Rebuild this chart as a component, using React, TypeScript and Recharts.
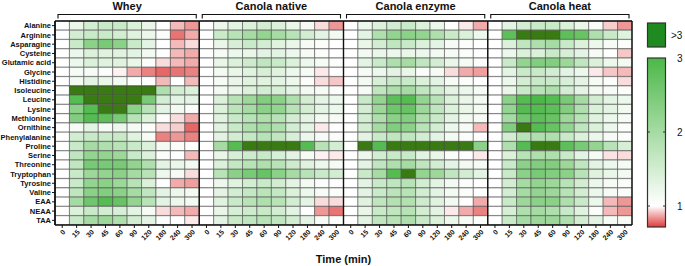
import { BarChart, Bar, Cell, XAxis, YAxis, ReferenceLine } from 'recharts';

const TIMES = ['0', '15', '30', '45', '60', '90', '120', '180', '240', '300'];
const PANELS = ['Whey', 'Canola native', 'Canola enzyme', 'Canola heat'];
const AMINO = [
  'Alanine', 'Arginine', 'Asparagine', 'Cysteine', 'Glutamic acid', 'Glycine', 'Histidine',
  'Isoleucine', 'Leucine', 'Lysine', 'Methionine', 'Ornithine', 'Phenylalanine', 'Proline',
  'Serine', 'Threonine', 'Tryptophan', 'Tyrosine', 'Valine', 'EAA', 'NEAA', 'TAA',
];

// fold change vs. baseline, one row per amino acid, one column per time point
const WHEY = [
  [1, 1.25, 1.5, 1.6, 1.6, 1.4, 1.25, 1.0, 0.9, 0.85],
  [1, 1.5, 1.6, 1.6, 1.5, 1.35, 1.2, 1.05, 0.8, 0.88],
  [1, 1.6, 2.3, 2.5, 2.3, 1.6, 1.3, 1.02, 0.9, 0.95],
  [1, 1.2, 1.4, 1.35, 1.35, 1.3, 1.15, 1.0, 0.9, 0.88],
  [1, 1.2, 1.4, 1.35, 1.35, 1.25, 1.05, 0.95, 0.9, 0.88],
  [1, 1.1, 1.1, 1.05, 0.98, 0.88, 0.82, 0.78, 0.8, 0.82],
  [1, 1.15, 1.3, 1.25, 1.15, 1.05, 1.02, 0.9, 1.0, 0.9],
  [1, 3.5, 3.5, 3.5, 3.5, 3.5, 3.5, 1.9, 1.5, 1.4],
  [1, 2.9, 3.5, 3.5, 3.5, 3.5, 2.5, 1.5, 1.3, 1.3],
  [1, 2.3, 2.9, 3.5, 3.5, 2.3, 1.8, 1.3, 1.15, 1.05],
  [1, 2.4, 2.9, 2.8, 2.5, 1.8, 1.4, 1.05, 0.95, 0.88],
  [1, 1.1, 1.3, 1.1, 1.2, 1.1, 1.05, 0.95, 0.93, 0.78],
  [1, 1.5, 1.6, 1.6, 1.6, 1.35, 1.1, 0.82, 0.85, 0.82],
  [1, 1.6, 2.0, 1.9, 1.8, 1.6, 1.4, 1.15, 1.05, 1.0],
  [1, 1.7, 2.2, 2.2, 2.1, 1.6, 1.4, 1.05, 1.0, 0.9],
  [1, 1.7, 2.5, 2.5, 2.5, 2.2, 1.9, 1.3, 1.25, 1.15],
  [1, 1.6, 2.1, 2.2, 2.3, 2.0, 1.8, 1.2, 1.1, 0.95],
  [1, 1.6, 2.2, 2.3, 2.1, 1.8, 1.4, 1.0, 0.88, 0.86],
  [1, 1.7, 2.3, 2.4, 2.3, 2.0, 1.7, 1.3, 1.2, 1.15],
  [1, 2.0, 2.6, 2.9, 2.7, 2.2, 1.8, 1.3, 1.2, 1.15],
  [1, 1.4, 1.6, 1.5, 1.45, 1.3, 1.1, 0.95, 0.9, 0.88],
  [1, 1.6, 2.0, 2.1, 1.9, 1.5, 1.3, 1.05, 1.0, 0.97],
];

const CANOLA_NATIVE = [
  [1, 1.2, 1.3, 1.4, 1.5, 1.4, 1.25, 1.1, 0.95, 0.85],
  [1, 1.6, 1.8, 2.0, 2.2, 2.0, 1.8, 1.5, 1.3, 1.15],
  [1, 1.25, 1.45, 1.6, 1.5, 1.35, 1.25, 1.1, 1.05, 1.0],
  [1, 1.1, 1.2, 1.25, 1.3, 1.3, 1.2, 1.1, 1.05, 1.0],
  [1, 1.25, 1.4, 1.55, 1.7, 1.6, 1.4, 1.2, 1.1, 1.05],
  [1, 1.15, 1.25, 1.35, 1.45, 1.35, 1.2, 1.1, 0.97, 1.0],
  [1, 1.1, 1.25, 1.35, 1.35, 1.3, 1.2, 1.05, 0.95, 0.92],
  [1, 1.15, 1.25, 1.4, 1.5, 1.45, 1.3, 1.15, 1.1, 1.05],
  [1, 1.4, 1.8, 2.1, 2.4, 2.3, 1.9, 1.5, 1.3, 1.2],
  [1, 1.4, 1.75, 2.0, 2.3, 2.2, 1.8, 1.5, 1.3, 1.2],
  [1, 1.35, 1.6, 1.8, 1.9, 1.8, 1.5, 1.3, 1.15, 1.1],
  [1, 1.35, 1.6, 1.9, 2.0, 1.9, 1.5, 1.3, 0.97, 1.0],
  [1, 1.3, 1.5, 1.65, 1.8, 1.7, 1.45, 1.2, 1.1, 1.05],
  [1, 2.0, 2.9, 3.5, 3.5, 3.5, 3.5, 2.9, 1.8, 1.5],
  [1, 1.25, 1.45, 1.55, 1.6, 1.45, 1.3, 1.1, 0.98, 0.97],
  [1, 1.4, 1.65, 1.8, 1.9, 1.8, 1.55, 1.35, 1.2, 1.1],
  [1, 1.8, 2.3, 2.5, 2.7, 2.3, 2.0, 1.8, 1.6, 1.5],
  [1, 1.2, 1.35, 1.5, 1.6, 1.5, 1.3, 1.15, 1.05, 1.02],
  [1, 1.3, 1.5, 1.65, 1.75, 1.65, 1.4, 1.2, 1.1, 1.05],
  [1, 1.35, 1.6, 1.8, 1.9, 1.8, 1.5, 1.3, 0.95, 0.95],
  [1, 1.25, 1.45, 1.55, 1.6, 1.5, 1.3, 1.02, 0.85, 0.8],
  [1, 1.3, 1.6, 1.7, 1.8, 1.7, 1.5, 1.3, 1.1, 1.05],
];

const CANOLA_ENZYME = [
  [1, 1.2, 1.4, 1.5, 1.6, 1.4, 1.2, 1.0, 0.97, 0.88],
  [1, 1.3, 1.9, 2.2, 2.3, 2.2, 1.9, 1.6, 1.4, 1.2],
  [1, 1.25, 1.5, 1.7, 1.6, 1.4, 1.3, 1.1, 1.05, 1.0],
  [1, 1.15, 1.25, 1.2, 1.25, 1.2, 1.15, 1.1, 1.05, 1.02],
  [1, 1.3, 1.6, 1.9, 2.0, 1.7, 1.5, 1.25, 1.1, 1.05],
  [1, 1.1, 1.2, 1.3, 1.25, 1.05, 1.1, 0.95, 0.88, 0.86],
  [1, 1.15, 1.45, 1.6, 1.6, 1.4, 1.3, 1.1, 1.05, 1.0],
  [1, 1.1, 1.7, 1.9, 2.0, 1.7, 1.5, 1.3, 1.2, 1.1],
  [1, 1.6, 2.2, 2.8, 2.9, 2.2, 1.8, 1.4, 1.25, 1.15],
  [1, 1.5, 2.1, 2.6, 2.7, 2.1, 1.7, 1.4, 1.25, 1.15],
  [1, 1.5, 1.9, 2.3, 2.4, 1.9, 1.6, 1.3, 1.15, 1.1],
  [1, 1.5, 2.0, 2.4, 2.3, 1.8, 1.5, 1.2, 1.1, 0.9],
  [1, 1.3, 1.6, 1.7, 1.7, 1.5, 1.3, 1.15, 1.05, 1.0],
  [1, 3.5, 2.9, 3.5, 3.5, 3.5, 3.5, 3.5, 3.5, 2.3],
  [1, 1.2, 1.5, 1.6, 1.6, 1.3, 1.25, 1.05, 1.0, 0.97],
  [1, 1.3, 1.7, 1.9, 2.0, 1.7, 1.5, 1.3, 1.15, 1.1],
  [1, 1.6, 2.0, 2.9, 3.5, 2.2, 2.1, 1.7, 1.5, 1.3],
  [1, 1.3, 1.6, 1.7, 1.8, 1.5, 1.3, 1.15, 1.05, 1.0],
  [1, 1.3, 1.6, 1.75, 1.8, 1.5, 1.3, 1.15, 1.05, 1.0],
  [1, 1.35, 1.7, 1.85, 1.85, 1.55, 1.35, 1.15, 1.0, 0.88],
  [1, 1.25, 1.6, 1.7, 1.8, 1.5, 1.3, 0.97, 0.88, 0.82],
  [1, 1.3, 1.7, 1.8, 1.9, 1.6, 1.4, 1.2, 1.1, 1.05],
];

const CANOLA_HEAT = [
  [1, 1.3, 1.5, 1.6, 1.6, 1.4, 1.25, 1.05, 0.93, 0.85],
  [1, 2.8, 3.5, 3.5, 3.5, 2.8, 2.7, 1.9, 1.6, 1.35],
  [1, 1.4, 1.7, 1.9, 2.0, 1.6, 1.4, 1.2, 1.1, 1.05],
  [1, 1.2, 1.4, 1.4, 1.6, 1.45, 1.3, 1.1, 1.0, 0.92],
  [1, 1.6, 2.2, 2.4, 2.4, 2.1, 1.7, 1.4, 1.2, 1.15],
  [1, 1.3, 1.6, 1.6, 1.5, 1.3, 1.2, 0.97, 0.92, 0.9],
  [1, 1.2, 1.5, 1.6, 1.6, 1.45, 1.3, 1.1, 1.05, 0.95],
  [1, 1.25, 1.6, 1.8, 1.9, 1.5, 1.3, 1.15, 1.1, 1.05],
  [1, 2.3, 2.9, 3.0, 2.9, 2.5, 2.0, 1.5, 1.3, 1.2],
  [1, 2.2, 2.9, 2.9, 2.8, 2.4, 1.9, 1.4, 1.3, 1.15],
  [1, 2.0, 2.6, 2.8, 2.7, 2.1, 1.8, 1.35, 1.2, 1.1],
  [1, 2.4, 3.5, 2.9, 2.7, 2.2, 1.7, 1.4, 1.2, 1.05],
  [1, 1.5, 1.8, 1.9, 1.9, 1.6, 1.4, 1.2, 1.1, 1.05],
  [1, 1.9, 2.9, 3.5, 3.5, 2.8, 2.5, 2.2, 1.8, 1.45],
  [1, 1.4, 1.8, 1.9, 1.9, 1.6, 1.3, 1.1, 0.96, 0.95],
  [1, 1.6, 2.3, 2.4, 2.4, 2.1, 1.7, 1.3, 1.2, 1.1],
  [1, 1.6, 2.3, 2.5, 2.4, 2.3, 1.8, 1.35, 1.25, 1.15],
  [1, 1.5, 2.0, 2.2, 2.1, 1.8, 1.5, 1.2, 1.1, 1.05],
  [1, 1.5, 2.0, 2.2, 2.1, 1.8, 1.5, 1.2, 1.1, 1.05],
  [1, 1.6, 2.1, 2.3, 2.3, 1.9, 1.6, 1.2, 0.9, 0.85],
  [1, 1.45, 1.9, 2.0, 1.9, 1.6, 1.35, 1.05, 0.9, 0.85],
  [1, 1.6, 2.0, 2.1, 2.1, 1.9, 1.5, 1.3, 1.1, 1.1],
];

const PANEL_DATA = [WHEY, CANOLA_NATIVE, CANOLA_ENZYME, CANOLA_HEAT];
const LEGEND_TICKS = [3, 2, 1];

const W = 685;
const H = 266;
const MARGIN = { top: 1, right: 53, bottom: 0, left: 0 };
const Y_AXIS_W = 55;
const PLOT_W = W - MARGIN.right - Y_AXIS_W;
const PANEL_W = PLOT_W / PANELS.length;
const FONT = '"Liberation Sans", Arial, sans-serif';

const GREEN = [76, 184, 72];
const RED = [224, 60, 60];
const DARK_GREEN = '#3a7a13';

const mix = (c: number[], t: number) => {
  const ch = c.map((v) => Math.round(255 + (v - 255) * t));
  return `rgb(${ch[0]},${ch[1]},${ch[2]})`;
};

const cellColor = (v: number) => {
  if (v > 3) return DARK_GREEN;
  if (v >= 1) return mix(GREEN, Math.min((v - 1) / 2, 1));
  return mix(RED, Math.min((1 - v) / 0.28, 1));
};

const nCols = PANELS.length * TIMES.length;

const rows = AMINO.map((name, r) => {
  const row: Record<string, string | number> = { name };
  PANEL_DATA.forEach((panel, p) => {
    panel[r].forEach((v, c) => {
      const i = p * TIMES.length + c;
      row[`c${i}`] = 1;
      row[`v${i}`] = v;
    });
  });
  return row;
});

const colIdx = Array.from({ length: nCols }, (_, i) => i);
const bottomTicks = colIdx.map((i) => i + 0.5);
const panelEdges = Array.from({ length: PANELS.length + 1 }, (_, p) => p * TIMES.length);

const RowTick = (props: any) => {
  const { x, y, payload } = props;
  return (
    <text
      x={x}
      y={y}
      dy={2.6}
      textAnchor="end"
      fontSize={7.5}
      fontWeight="bold"
      fontFamily={FONT}
      fill="#111"
    >
      {payload.value}
    </text>
  );
};

// panel titles with brackets, plus the colour scale legend
const BAR_TOP = 58;
const BAR_BOTTOM = 227;
const UNIT = 74;
const legendY = (v: number) => BAR_TOP + (3 - v) * UNIT;

const Overlay = () => (
  <svg
    width={W}
    height={H}
    style={{ position: 'absolute', left: 0, top: 0, pointerEvents: 'none' }}
  >
    <defs>
      <linearGradient id="scale" x1="0" y1="0" x2="0" y2="1">
        <stop offset="0" stopColor={mix(GREEN, 1)} />
        <stop offset={(legendY(1) - BAR_TOP) / (BAR_BOTTOM - BAR_TOP)} stopColor="#ffffff" />
        <stop offset="1" stopColor={mix(RED, 1)} />
      </linearGradient>
    </defs>
    {PANELS.map((name, p) => {
      const cx = Y_AXIS_W + (p + 0.5) * PANEL_W;
      const half = PANEL_W / 2 - 3;
      return (
        <g key={name}>
          <text
            x={cx}
            y={10}
            textAnchor="middle"
            fontSize={11}
            fontWeight="bold"
            fontFamily={FONT}
            fill="#111"
          >
            {name}
          </text>
          <path
            d={`M${cx - half},18.5 V14.5 H${cx + half} V18.5`}
            fill="none"
            stroke="#111"
            strokeWidth={1.1}
          />
        </g>
      );
    })}
    <rect x={647.5} y={23} width={18} height={24} fill="#1f8a1f" stroke="#333" strokeWidth={1.2} />
    <text x={671} y={39} fontSize={10} fontFamily={FONT} fill="#111">&gt;3</text>
    <rect
      x={647.5}
      y={BAR_TOP}
      width={18}
      height={BAR_BOTTOM - BAR_TOP}
      fill="url(#scale)"
      stroke="#333"
      strokeWidth={1.2}
    />
    {LEGEND_TICKS.map((t) => (
      <g key={t}>
        {t < 3 && (
          <>
            <line x1={647.5} x2={650} y1={legendY(t)} y2={legendY(t)} stroke="#333" strokeWidth={1} />
            <line x1={663} x2={665.5} y1={legendY(t)} y2={legendY(t)} stroke="#333" strokeWidth={1} />
          </>
        )}
        <text x={677} y={legendY(t) + 3.5} fontSize={10} fontFamily={FONT} fill="#111">
          {t}
        </text>
      </g>
    ))}
  </svg>
);

export default function App() {
  return (
    <div style={{ position: 'absolute', left: 0, top: 0, width: W, height: H, background: '#fff', fontFamily: FONT }}>
      <BarChart
        width={W}
        height={H}
        data={rows}
        layout="vertical"
        margin={MARGIN}
        barCategoryGap={0}
        barGap={0}
      >
        <XAxis
          type="number"
          domain={[0, nCols]}
          ticks={bottomTicks}
          interval={0}
          height={41}
          tickFormatter={(v: number) => TIMES[Math.floor(v) % TIMES.length]}
          tick={{ fontSize: 7, fontWeight: 'bold', fill: '#111', angle: -45, textAnchor: 'end' }}
          tickSize={3}
          tickMargin={1}
          tickLine={{ stroke: '#111' }}
          axisLine={{ stroke: '#111', strokeWidth: 1.3 }}
          label={{
            value: 'Time (min)',
            position: 'insideBottom',
            offset: 3,
            style: { fontSize: 11, fontWeight: 'bold', fill: '#111' },
          }}
        />
        <XAxis
          xAxisId="top"
          orientation="top"
          type="number"
          domain={[0, nCols]}
          tick={false}
          height={20}
          tickLine={false}
          axisLine={{ stroke: '#111', strokeWidth: 1.3 }}
        />
        <YAxis
          type="category"
          dataKey="name"
          width={Y_AXIS_W}
          interval={0}
          tick={(props: any) => <RowTick {...props} />}
          tickSize={3}
          tickMargin={1}
          tickLine={{ stroke: '#111' }}
          axisLine={{ stroke: '#111', strokeWidth: 1.3 }}
        />
        {colIdx.map((i) => (
          <Bar key={i} dataKey={`c${i}`} stackId="grid" isAnimationActive={false}>
            {rows.map((row, r) => (
              <Cell
                key={r}
                fill={cellColor(row[`v${i}`] as number)}
                stroke="#3a3a3a"
                strokeWidth={0.5}
              />
            ))}
          </Bar>
        ))}
        {panelEdges.map((x) => (
          <ReferenceLine key={x} x={x} stroke="#111" strokeWidth={1.4} ifOverflow="extendDomain" />
        ))}
      </BarChart>
      <Overlay />
    </div>
  );
}
